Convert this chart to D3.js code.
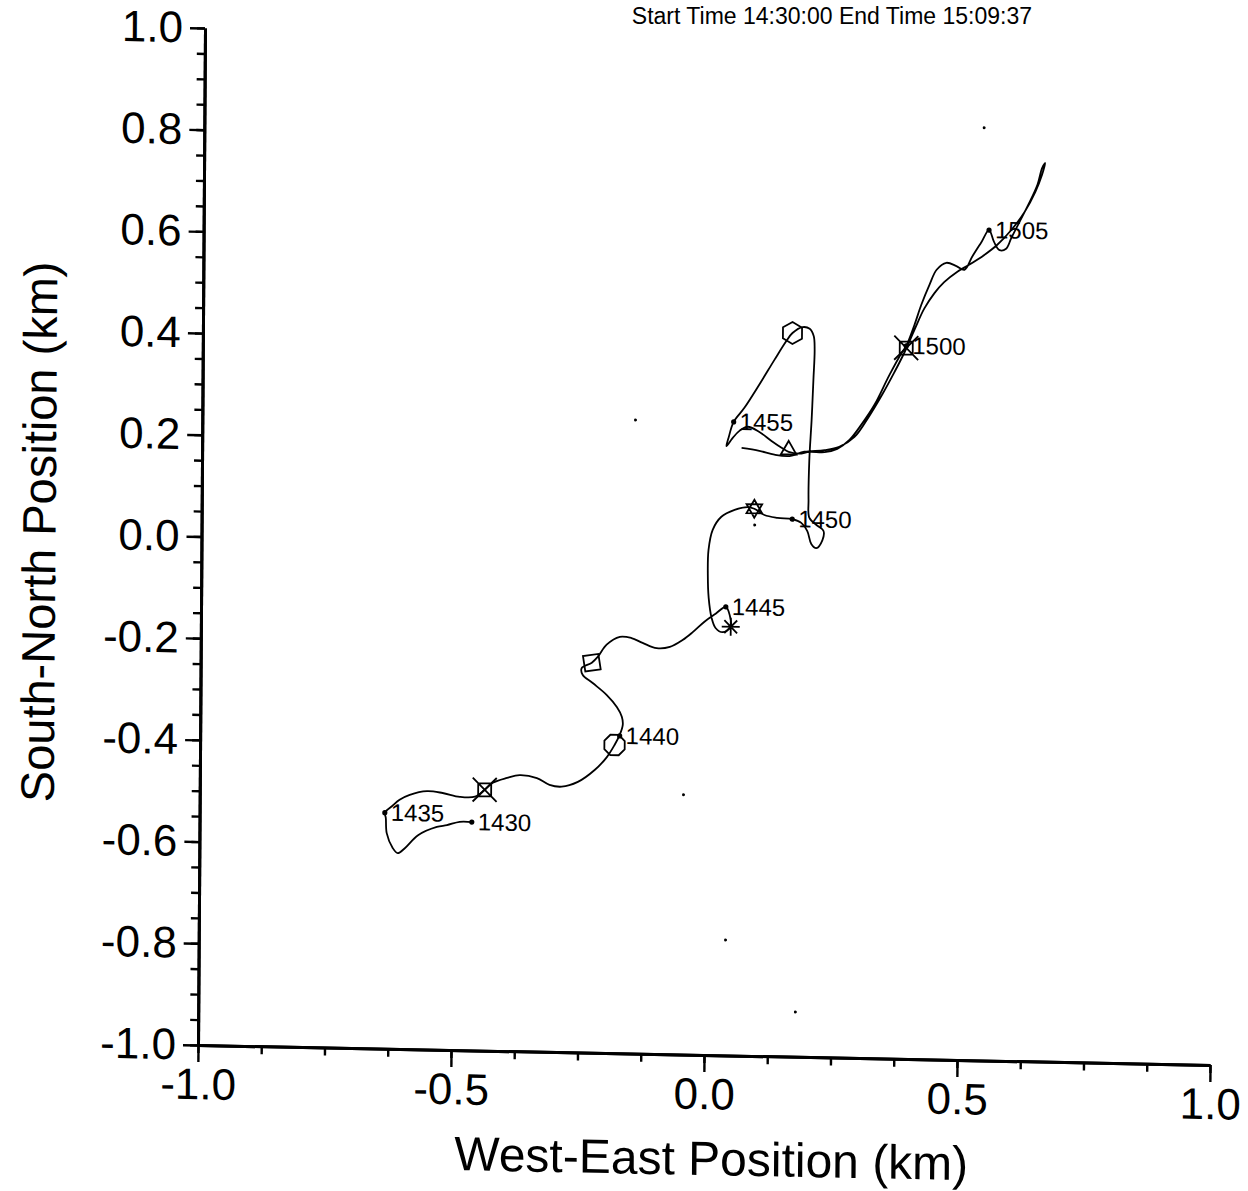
<!DOCTYPE html>
<html><head><meta charset="utf-8">
<script src="https://cdn.jsdelivr.net/npm/d3@7"></script>
<style>body{margin:0;background:#fff} svg{display:block}</style>
</head><body>
<svg id="c" width="1248" height="1191"></svg>
<script>
// ---------- data (km) ----------
const trackX = [-0.462,-0.486,-0.511,-0.531,-0.568,-0.594,-0.608,-0.618,-0.630,-0.632,-0.634,-0.620,-0.605,-0.585,-0.551,-0.520,-0.486,-0.456,-0.437,-0.421,-0.393,-0.368,-0.334,-0.309,-0.285,-0.253,-0.220,-0.196,-0.181,-0.171,-0.165,-0.167,-0.177,-0.197,-0.225,-0.245,-0.247,-0.227,-0.215,-0.198,-0.172,-0.149,-0.127,-0.099,-0.073,-0.048,-0.028,-0.005,0.017,0.037,0.045,0.047,0.031,0.017,0.009,0.003,0.001,0.002,0.010,0.027,0.053,0.079,0.092,0.112,0.138,0.167,0.185,0.197,0.205,0.215,0.227,0.229,0.217,0.201,0.199,0.200,0.204,0.207,0.209,0.207,0.199,0.185,0.165,0.153,0.130,0.100,0.071,0.050,0.040,0.036,0.048,0.062,0.078,0.101,0.125,0.145,0.159,0.180,0.200,0.230,0.255,0.279,0.302,0.328,0.357,0.382,0.390,0.406,0.419,0.435,0.449,0.468,0.488,0.504,0.519,0.537,0.552,0.562,0.573,0.586,0.596,0.612,0.631,0.647,0.656,0.662,0.656,0.643,0.622,0.596,0.568,0.543,0.513,0.490,0.464,0.445,0.425,0.406,0.386,0.367,0.344,0.318,0.289,0.259,0.230,0.190,0.161,0.131,0.101,0.066];
const trackY = [-0.551,-0.551,-0.558,-0.562,-0.579,-0.605,-0.615,-0.605,-0.576,-0.546,-0.536,-0.523,-0.510,-0.500,-0.492,-0.495,-0.502,-0.501,-0.487,-0.473,-0.463,-0.457,-0.462,-0.475,-0.478,-0.468,-0.444,-0.418,-0.394,-0.374,-0.354,-0.338,-0.319,-0.296,-0.273,-0.257,-0.244,-0.233,-0.221,-0.197,-0.181,-0.183,-0.192,-0.202,-0.199,-0.185,-0.169,-0.148,-0.132,-0.118,-0.135,-0.157,-0.168,-0.160,-0.140,-0.101,-0.056,-0.007,0.033,0.059,0.073,0.079,0.076,0.064,0.059,0.057,0.050,0.034,0.009,0.001,0.017,0.035,0.045,0.060,0.095,0.174,0.253,0.332,0.391,0.418,0.432,0.435,0.423,0.407,0.370,0.320,0.274,0.246,0.214,0.198,0.214,0.229,0.237,0.227,0.210,0.197,0.189,0.186,0.190,0.190,0.197,0.215,0.245,0.285,0.344,0.390,0.402,0.444,0.483,0.523,0.553,0.567,0.561,0.554,0.580,0.609,0.633,0.610,0.594,0.597,0.618,0.650,0.688,0.724,0.757,0.767,0.744,0.710,0.670,0.634,0.604,0.584,0.564,0.550,0.529,0.507,0.476,0.434,0.388,0.350,0.307,0.263,0.221,0.201,0.194,0.190,0.181,0.183,0.190,0.195];

const timeLabels = ["1430","1435","1440","1445","1450","1455","1500","1505"];
const timeX = [-0.462,-0.634,-0.171,0.037,0.167,0.050,0.390,0.552];
const timeY = [-0.551,-0.536,-0.376,-0.118,0.057,0.246,0.402,0.633];

const symbolTypes = ["boxX","octagon","diamond","asterisk","star","hexagon","triangle","boxX"];
const symbolX = [-0.437,-0.181,-0.227,0.047,0.092,0.165,0.159,0.390];
const symbolY = [-0.487,-0.394,-0.233,-0.157,0.076,0.423,0.193,0.398];

const speckX = [-0.144,0.041,0.180,-0.044,0.093,0.541];
const speckY = [0.246,-0.773,-0.912,-0.489,0.044,0.834];

const xMajor = [-1,-0.5,0,0.5,1];
const xMajorLabels = ["-1.0","-0.5","0.0","0.5","1.0"];
const yMajor = [-1,-0.8,-0.6,-0.4,-0.2,0,0.2,0.4,0.6,0.8,1];
const yMajorLabels = ["-1.0","-0.8","-0.6","-0.4","-0.2","0.0","0.2","0.4","0.6","0.8","1.0"];
const xMinorStep = 0.125, yMinorStep = 0.05;

const headerText = "Start Time 14:30:00   End Time 15:09:37";
const xTitle = "West-East Position (km)";
const yTitle = "South-North Position (km)";

// ---------- drawing ----------
const FONT = "'Liberation Sans', Arial, Helvetica, sans-serif";
const svg = d3.select("#c");
const x = d3.scaleLinear().domain([-1,1]).range([198,1210]);
const y = d3.scaleLinear().domain([-1,1]).range([1045,28]);

// slight scan skew
const b = 0.0197, c = -0.0069;
const g = svg.append("g").attr("transform", `matrix(1,${b},${c},1,${-c*1045},${-b*198})`);

// header
svg.append("text").attr("x",1032).attr("y",24).attr("text-anchor","end")
  .attr("font-family",FONT).attr("font-size",23).text(headerText);

const xMinor = d3.range(-1, 1+1e-9, xMinorStep);
const yMinor = d3.range(-1, 1+1e-9, yMinorStep);

function styleAxis(sel){
  sel.select(".domain").attr("stroke-width",3);
  sel.selectAll(".tick line").attr("stroke-width",2.4);
  sel.attr("font-family",FONT).attr("font-size",44);
  sel.selectAll("text").attr("fill","#000");
}
g.append("g").attr("transform","translate(0,1045)")
  .call(d3.axisBottom(x).tickValues(xMinor).tickSize(8).tickSizeOuter(0).tickFormat(""))
  .call(styleAxis);
g.append("g").attr("transform","translate(0,1045)")
  .call(d3.axisBottom(x).tickValues(xMajor).tickSize(17).tickSizeOuter(0).tickPadding(6)
    .tickFormat((d,i)=>xMajorLabels[i]))
  .call(styleAxis);
g.append("g").attr("transform","translate(198,0)")
  .call(d3.axisLeft(y).tickValues(yMinor).tickSize(8).tickSizeOuter(0).tickFormat(""))
  .call(styleAxis);
g.append("g").attr("transform","translate(198,0)")
  .call(d3.axisLeft(y).tickValues(yMajor).tickSize(15).tickSizeOuter(0).tickPadding(7)
    .tickFormat((d,i)=>yMajorLabels[i]))
  .call(styleAxis);

// titles
g.append("text").attr("x",712).attr("y",1165).attr("text-anchor","middle")
  .attr("font-family",FONT).attr("font-size",48).text(xTitle);
g.append("text").attr("transform","translate(52,535) rotate(-90)").attr("text-anchor","middle")
  .attr("font-family",FONT).attr("font-size",47).text(yTitle);

// track
const pts = trackX.map((v,i)=>[v,trackY[i]]);
const line = d3.line().x(d=>x(d[0])).y(d=>y(d[1])).curve(d3.curveCatmullRom.alpha(0.5));
g.append("path").attr("d",line(pts)).attr("fill","none").attr("stroke","#000")
  .attr("stroke-width",1.8).attr("stroke-linejoin","round");

// symbols
function poly(n,r,rot){
  return d3.range(n).map(k=>{const a=rot+k*2*Math.PI/n;return [r*Math.cos(a),r*Math.sin(a)];});
}
function pathFrom(p){return "M"+p.map(q=>q.join(",")).join("L")+"Z";}
const shapes = {
  boxX: ()=> "M-6.5,-6.5L6.5,-6.5L6.5,6.5L-6.5,6.5Z M-12,-12L12,12 M12,-12L-12,12",
  octagon: ()=> pathFrom(poly(8,11,Math.PI/8)),
  diamond: ()=> pathFrom(poly(4,11,Math.PI/5)),
  asterisk: ()=> "M-9,0L9,0 M0,-9L0,9 M-6.4,-6.4L6.4,6.4 M6.4,-6.4L-6.4,6.4",
  star: ()=> pathFrom(poly(3,9,-Math.PI/2)) + pathFrom(poly(3,9,Math.PI/2)),
  hexagon: ()=> pathFrom(poly(6,11,-Math.PI/2)),
  triangle: ()=> pathFrom(poly(3,9,-Math.PI/2))
};
g.selectAll("path.sym").data(symbolTypes).join("path").attr("class","sym")
  .attr("transform",(d,i)=>`translate(${x(symbolX[i])},${y(symbolY[i])})`)
  .attr("d",d=>shapes[d]()).attr("fill","none").attr("stroke","#000").attr("stroke-width",1.8);

// time labels
g.selectAll("circle.tdot").data(timeLabels).join("circle").attr("class","tdot")
  .attr("cx",(d,i)=>x(timeX[i])).attr("cy",(d,i)=>y(timeY[i])).attr("r",2.6).attr("fill","#000");
g.selectAll("text.tl").data(timeLabels).join("text").attr("class","tl")
  .attr("x",(d,i)=>x(timeX[i])+6).attr("y",(d,i)=>y(timeY[i])+8)
  .attr("font-family",FONT).attr("font-size",24).text(d=>d);

// scan specks
g.selectAll("circle.sp").data(speckX).join("circle").attr("class","sp")
  .attr("cx",(d,i)=>x(d)).attr("cy",(d,i)=>y(speckY[i])).attr("r",1.5).attr("fill","#000");
</script>
</body></html>
